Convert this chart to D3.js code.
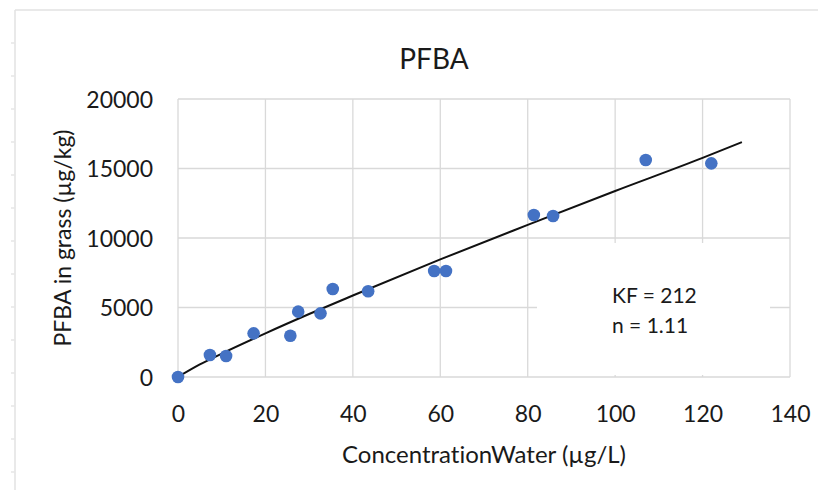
<!DOCTYPE html>
<html><head><meta charset="utf-8">
<script src="https://cdn.jsdelivr.net/npm/d3@7"></script>
<style>html,body{margin:0;padding:0;background:#fff;}svg{display:block;}text{font-variant-ligatures:none;}</style>
</head><body>
<svg id="c" width="818" height="490"></svg>
<script>
// Observed data points (Concentration in water µg/L, PFBA in grass µg/kg)
const concWater = [0, 7.3, 11.0, 17.3, 25.7, 27.5, 32.6, 35.4, 43.5, 58.6, 61.3, 81.4, 85.8, 107.0, 122.0];
const pfbaGrass = [0, 1580, 1510, 3140, 2970, 4700, 4580, 6330, 6170, 7630, 7630, 11650, 11580, 15610, 15370];
// Trend line
const trendX = [0, 5, 10, 20, 30, 40, 60, 80, 100, 120, 129];
const trendY = [0, 900, 1680, 3140, 4530, 5860, 8460, 10940, 13380, 15760, 16900];
const xTicks = [0, 20, 40, 60, 80, 100, 120, 140];
const yTicks = [0, 5000, 10000, 15000, 20000];
const title = "PFBA";
const xTitle = "ConcentrationWater (µg/L)";
const yTitle = "PFBA in grass (µg/kg)";
const annot = ["KF = 212", "n = 1.11"];

const svg = d3.select("#c");
const font = "Lato, 'Open Sans', sans-serif";
const L = 178, R = 790, T = 99, B = 377;
const x = d3.scaleLinear().domain([0, 140]).range([L, R]);
const y = d3.scaleLinear().domain([0, 20000]).range([B, T]);
const grid = "#d9d9d9";

// outer chart border + faint sheet ticks
svg.append("line").attr("x1",15).attr("x2",818).attr("y1",10).attr("y2",10).attr("stroke","#e2e2e2").attr("stroke-width",1.5);
svg.append("line").attr("x1",15).attr("x2",15).attr("y1",10).attr("y2",490).attr("stroke","#e2e2e2").attr("stroke-width",1.5);
svg.append("g").selectAll("line").data(d3.range(43, 490, 33)).join("line")
  .attr("x1",11).attr("x2",15).attr("y1",d=>d).attr("y2",d=>d).attr("stroke","#e6e6e6").attr("stroke-width",1.5);

// gridlines
svg.append("g").selectAll("line").data(xTicks).join("line")
  .attr("x1",d=>x(d)).attr("x2",d=>x(d)).attr("y1",T).attr("y2",B).attr("stroke",grid).attr("stroke-width",1.3);
svg.append("g").selectAll("line").data(yTicks).join("line")
  .attr("x1",L).attr("x2",R).attr("y1",d=>y(d)).attr("y2",d=>y(d)).attr("stroke",grid).attr("stroke-width",1.3);

// axes labels via d3 axes
const xAxis = svg.append("g").attr("transform",`translate(0,${B})`)
  .call(d3.axisBottom(x).tickValues(xTicks).tickSize(0).tickPadding(0).tickFormat(d3.format("d")));
xAxis.select(".domain").remove();
xAxis.selectAll("text").attr("y", 45).attr("dy", null).attr("font-family", font).attr("font-size", 23).attr("fill", "#1a1a1a");

const yAxis = svg.append("g").attr("transform",`translate(${L},0)`)
  .call(d3.axisLeft(y).tickValues(yTicks).tickSize(0).tickPadding(0).tickFormat(d3.format("d")));
yAxis.select(".domain").remove();
yAxis.selectAll("text").attr("x", -25).attr("dy", "0.36em").attr("font-family", font).attr("font-size", 23).attr("fill", "#1a1a1a");

// annotation box
svg.append("rect").attr("x",537).attr("y",243).attr("width",233).attr("height",132).attr("fill","#fff");
svg.append("g").selectAll("text").data(annot).join("text")
  .attr("x",612).attr("y",(d,i)=>303+i*30).attr("font-family",font).attr("font-size",21).attr("fill","#1a1a1a").text(d=>d);

// trend line
const trend = trendX.map((d,i)=>[d, trendY[i]]);
svg.append("path").datum(trend)
  .attr("d", d3.line().x(d=>x(d[0])).y(d=>y(d[1])).curve(d3.curveMonotoneX))
  .attr("fill","none").attr("stroke","#111").attr("stroke-width",2);

// points
svg.append("g").selectAll("circle").data(concWater.map((d,i)=>[d, pfbaGrass[i]])).join("circle")
  .attr("cx",d=>x(d[0])).attr("cy",d=>y(d[1])).attr("r",6.3).attr("fill","#4472C4");

// titles
svg.append("text").attr("x",434).attr("y",69).attr("text-anchor","middle")
  .attr("font-family",font).attr("font-size",28).attr("fill","#1a1a1a").text(title);
svg.append("text").attr("x",484).attr("y",463).attr("text-anchor","middle")
  .attr("font-family",font).attr("font-size",24).attr("fill","#1a1a1a").text(xTitle);
svg.append("text").attr("transform",`translate(71,238) rotate(-90)`).attr("text-anchor","middle")
  .attr("font-family",font).attr("font-size",23).attr("fill","#1a1a1a").text(yTitle);
</script>
</body></html>
